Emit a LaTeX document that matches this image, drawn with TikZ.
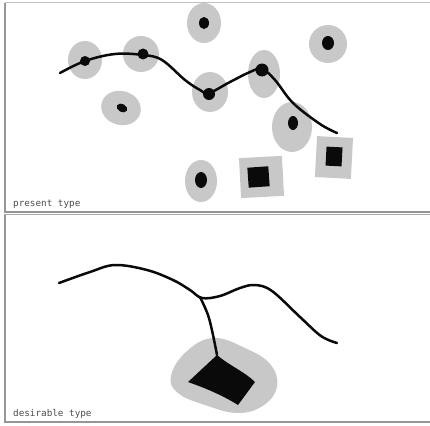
\documentclass[tikz,border=0pt]{standalone}
\usepackage{fontspec}
\newfontfamily\capfont{DejaVu Sans Mono}
\usetikzlibrary{calc}
\definecolor{halo}{RGB}{200,200,200}
\definecolor{frame}{RGB}{150,150,150}
\definecolor{ink}{RGB}{10,10,10}
\begin{document}
\begin{tikzpicture}[x=1pt,y=-1pt,
  panel/.style={draw=frame,line width=1.2pt},
  road/.style={draw=ink,line width=2.5pt,line cap=round,line join=round},
  haloshape/.style={fill=halo},
  core/.style={fill=ink},
  caption/.style={anchor=base west,inner sep=0pt,text=black!70,font=\fontsize{9.3}{11}\capfont}]
\useasboundingbox (0,0) rectangle (430,425);
\fill[white] (0,0) rectangle (430,425);
% frames
\draw[panel] (5,3) -- (5,212) -- (431,212);
\draw[draw=frame!60,line width=1pt] (5,3) -- (431,3);
\draw[panel] (5,214) -- (5,422) -- (431,422);
\draw[draw=frame!80,line width=1pt] (5,214) -- (431,214);
% ---- present type ----
\fill[haloshape] (85,60) ellipse [x radius=17,y radius=19];
\fill[haloshape] (141,54) ellipse [x radius=18,y radius=18];
\fill[haloshape] (204,23) ellipse [x radius=17,y radius=20];
\fill[haloshape] (328,44) ellipse [x radius=19,y radius=19];
\fill[haloshape,rotate around={-15:(121,108)}] (121,108) ellipse [x radius=20,y radius=17];
\fill[haloshape] (210,92) ellipse [x radius=18,y radius=20];
\fill[haloshape] (264,74) ellipse [x radius=16,y radius=24];
\fill[haloshape] (292,127) ellipse [x radius=20,y radius=25];
\fill[haloshape] (201,181) ellipse [x radius=16,y radius=21];
\fill[haloshape,rotate around={3:(261,177)}] (240,157) rectangle (283,197);
\fill[haloshape,rotate around={-3:(334,157)}] (316,137) rectangle (352,178);
% cores
\fill[core] (85,61) circle (5);
\fill[core] (143,54) circle (5.5);
\fill[core] (204,23) ellipse [x radius=5,y radius=6];
\fill[core] (328,43) ellipse [x radius=6,y radius=7];
\fill[core,rotate around={-30:(122,108)}] (122,108) ellipse [x radius=5.5,y radius=4];
\fill[core] (209,94) circle (6);
\fill[core] (262,70) circle (6.5);
\fill[core] (293,123) ellipse [x radius=5,y radius=7];
\fill[core] (201,180) ellipse [x radius=6,y radius=8];
\fill[core,rotate around={4:(258,177)}] (248,167) rectangle (269,187);
\fill[core,rotate around={-3:(334,157)}] (326,147) rectangle (342,166);
% road
\draw[road] plot[smooth,tension=0.6] coordinates {(60,73) (85,61) (115,54) (143,55) (162,60) (185,80) (200,90) (209,93) (230,82) (250,72) (262,69) (275,80) (293,103) (320,124) (337,133)};
\node[caption] (present) at (13,206) {present type};
% ---- desirable type ----
\fill[haloshape] plot[smooth cycle,tension=0.7] coordinates {(213,338) (245,348) (270,364) (277,386) (264,405) (238,413) (205,405) (178,393) (171,376) (186,352)};
\fill[core] (217,355) .. controls (230,366) and (245,372) .. (255,382)
  -- (238,405) .. controls (222,395) and (205,388) .. (188,382) -- cycle;
\draw[road] plot[smooth,tension=0.6] coordinates {(59,283) (90,272) (115,265) (147,270) (173,280) (190,290) (202,298) (220,296) (240,288) (255,285) (272,291) (300,317) (321,336) (337,343)};
\draw[road] plot[smooth,tension=0.6] coordinates {(200,297) (208,315) (213,335) (217,355)};
\node[caption] (desirable) at (13,416) {desirable type};
\end{tikzpicture}
\end{document}
